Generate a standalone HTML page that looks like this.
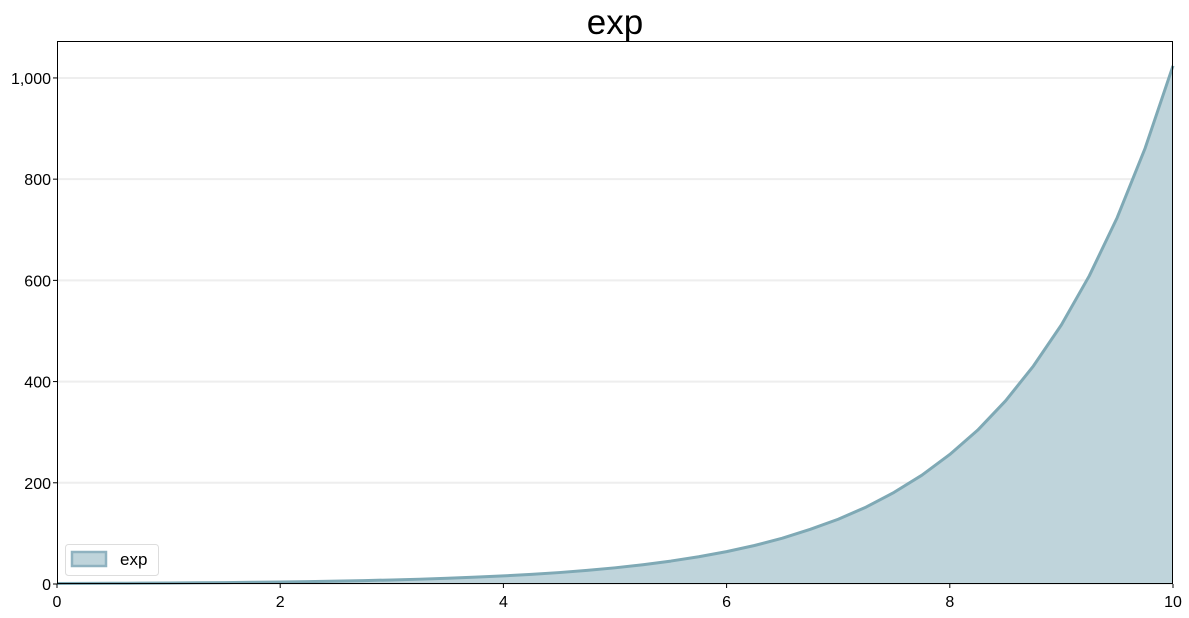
<!DOCTYPE html>
<html><head><meta charset="utf-8"><style>
body{margin:0;background:#fff;font-family:"Liberation Sans",sans-serif}
svg text{font-family:"Liberation Sans",sans-serif}
</style></head><body>
<svg id="c" width="1189" height="613">
<text x="615" y="34" text-anchor="middle" font-size="35">exp</text>
<g id="grid"></g><g id="area"></g><g id="axes"></g>
<g>
<rect x="65.5" y="544.5" width="93" height="31" rx="3" fill="#fff" stroke="#ddd"/>
<rect x="72" y="552" width="34" height="14" fill="#bfd4db" stroke="#8fb2c0" stroke-width="2.5"/>
<text x="120" y="565" font-size="17">exp</text>
</g>
</svg>
<script>
const xs=[0,0.25,0.5,0.75,1,1.25,1.5,1.75,2,2.25,2.5,2.75,3,3.25,3.5,3.75,4,4.25,4.5,4.75,5,5.25,5.5,5.75,6,6.25,6.5,6.75,7,7.25,7.5,7.75,8,8.25,8.5,8.75,9,9.25,9.5,9.75,10];
const ys=[1,1.19,1.41,1.68,2,2.38,2.83,3.36,4,4.76,5.66,6.73,8,9.51,11.3,13.5,16,19,22.6,26.9,32,38.1,45.3,53.8,64,76.1,90.5,108,128,152,181,215,256,304,362,431,512,609,724,861,1024];
const xTicks=[0,2,4,6,8,10];
const yTicks=[0,200,400,600,800,1000];
const yTickLabels=["0","200","400","600","800","1,000"];
const L=57,R=1173,T=41,B=584,YMAX=1073;
const sx=v=>L+(v-0)/10*(R-L), sy=v=>B-v/YMAX*(B-T);
const NS="http://www.w3.org/2000/svg";
function mk(p,t,a){const e=document.createElementNS(NS,t);for(const k in a)e.setAttribute(k,a[k]);p.appendChild(e);return e;}
const grid=document.getElementById('grid'),axes=document.getElementById('axes'),area=document.getElementById('area');
yTicks.forEach((v,i)=>{
 const g=mk(grid,'line',{x1:L,x2:R,y1:sy(v),y2:sy(v),stroke:'#eee','stroke-width':2});
 
 
 const t=mk(axes,'text',{x:L-6,y:sy(v)+6,'text-anchor':'end','font-size':16});
 t.textContent=yTickLabels[i];
 
 
 mk(axes,'line',{x1:L-4,x2:L,y1:sy(v),y2:sy(v),stroke:'#000'});
});
xTicks.forEach(v=>{
 const t=mk(axes,'text',{x:sx(v),y:B+23,'text-anchor':'middle','font-size':16});
 t.textContent=String(v);
 
 
 mk(axes,'line',{x1:sx(v),x2:sx(v),y1:B,y2:B+4,stroke:'#000'});
});
let d='M'+sx(xs[0])+','+sy(0);
xs.forEach((x,i)=>d+=' L'+sx(x)+','+sy(ys[i]));
d+=' L'+sx(xs[xs.length-1])+','+sy(0)+'Z';
const a=mk(area,'path',{d:d,fill:'#bfd4db',stroke:'none'});


let ld='';xs.forEach((x,i)=>ld+=(i?' L':'M')+sx(x)+','+sy(ys[i]));
const ln=mk(area,'path',{d:ld,fill:'none',stroke:'#7fa9b5','stroke-width':3,'stroke-linejoin':'round'});


const fr=mk(axes,'rect',{x:L+0.5,y:T+0.5,width:R-L-1,height:B-T-1,fill:'none',stroke:'#000','stroke-width':1});


</script>
</body></html>
